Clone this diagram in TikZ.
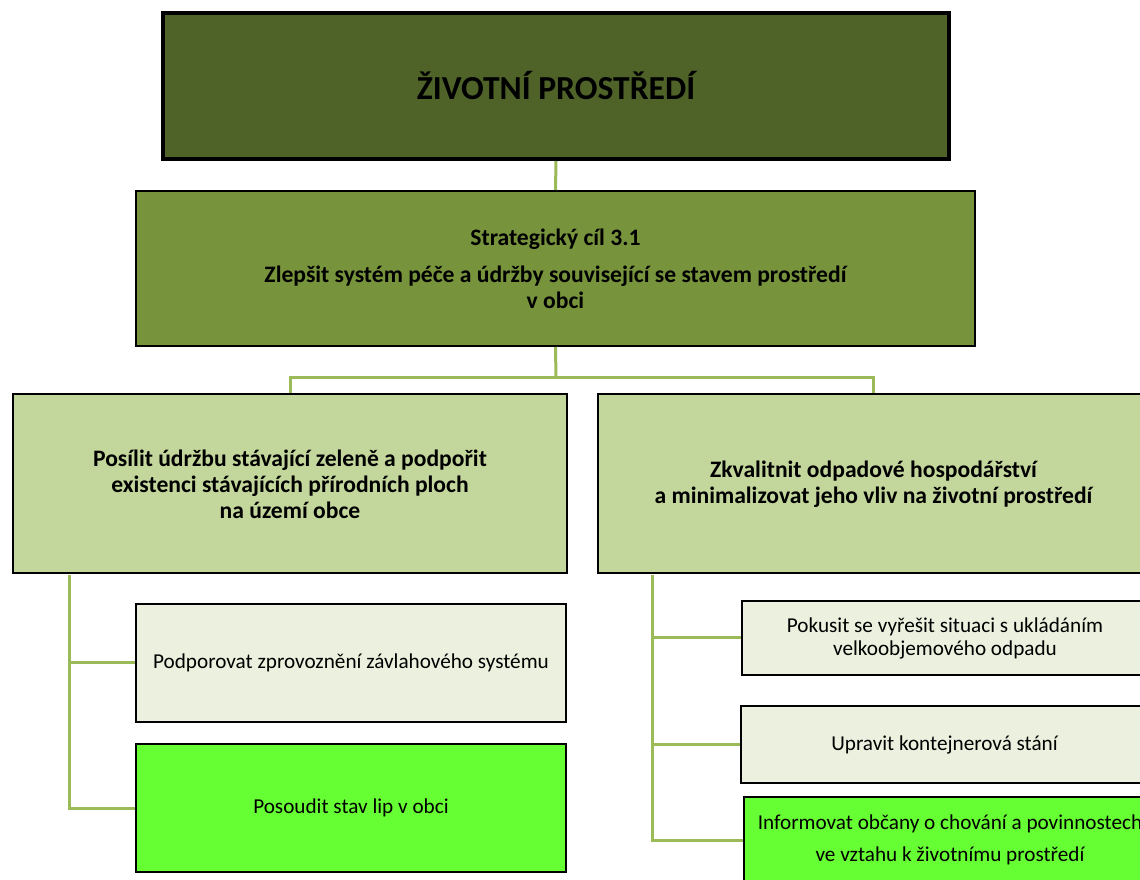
\documentclass[tikz,border=0pt]{standalone}
\usepackage{fontspec}
\setmainfont{Carlito}
\tikzset{every picture/.style={line width=0.75pt}}

\definecolor{envdark}{RGB}{79,98,40}
\definecolor{goalgreen}{RGB}{119,147,60}
\definecolor{aimlight}{RGB}{195,214,155}
\definecolor{taskpale}{RGB}{235,241,222}
\definecolor{taskbright}{RGB}{102,255,51}
\definecolor{connline}{RGB}{155,187,89}

\tikzset{
  box/.style={draw=black, line width=1.5pt, rectangle, inner sep=0pt, align=center},
  headfont/.style={font=\fontsize{17.7}{19.5}\selectfont\bfseries},
  taskfont/.style={font=\fontsize{15.9}{17.25}\selectfont},
  conn/.style={draw=connline, line width=2.25pt},
}

\begin{document}
\begin{tikzpicture}[x=0.75pt,y=0.75pt,yscale=-1,xscale=1]
\clip (0,0) rectangle (1140,880);
\fill[white] (0,0) rectangle (1140,880);

%Shape: Rectangle [title]
\node [box, line width=3pt, fill=envdark, minimum width=589.5pt, minimum height=109.5pt, font=\fontsize{25.2}{30}\selectfont\bfseries] (env) at (556,86) {ŽIVOTNÍ PROSTŘEDÍ};
%Shape: Rectangle [strategic goal]
\node [box, fill=goalgreen, minimum width=629.25pt, minimum height=116.25pt, headfont] (goal) at (555.5,268.5) {Strategický cíl 3.1\\[8.25pt] Zlepšit systém péče a údržby související se stavem prostředí\\ v obci};

%Shape: Rectangle [aims]
\node [box, fill=aimlight, minimum width=415.5pt, minimum height=134.25pt, headfont] (aimL) at (290,484) {Posílit údržbu stávající zeleně a podpořit\\ existenci stávajících přírodních ploch\\ na území obce};
\node [box, fill=aimlight, minimum width=413.25pt, minimum height=134.25pt, headfont] (aimR) at (873.5,484) {Zkvalitnit odpadové hospodářství\\ a minimalizovat jeho vliv na životní prostředí};

%Shape: Rectangle [left tasks]
\node [box, fill=taskpale, minimum width=322.5pt, minimum height=88.5pt, taskfont] (taskL1) at (351,663) {Podporovat zprovoznění závlahového systému};
\node [box, fill=taskbright, minimum width=322.5pt, minimum height=96pt, taskfont] (taskL2) at (351,808) {Posoudit stav lip v obci};

%Shape: Rectangle [right tasks]
\node [box, fill=taskpale, minimum width=304.5pt, minimum height=55.5pt, taskfont] (taskR1) at (945,638) {Pokusit se vyřešit situaci s ukládáním\\ velkoobjemového odpadu};
\node [box, fill=taskpale, minimum width=305.25pt, minimum height=57.75pt, taskfont] (taskR2) at (944.5,744.5) {Upravit kontejnerová stání};
\node [box, fill=taskbright, minimum width=309pt, minimum height=64.5pt, taskfont] (taskR3) at (950,840) {Informovat občany o chování a povinnostech\\[6.75pt] ve vztahu k životnímu prostředí};

% Connectors
\coordinate (fork) at (556,378);
\coordinate (trunkL) at (69,575);
\coordinate (trunkR) at (652,575);
\draw [conn] (env.south) -- (goal.north);
\draw [conn] (goal.south) -- (fork);
\draw [conn] (aimL.north) |- (fork) -| (aimR.north);
\draw [conn] (trunkL) |- (taskL1.west);
\draw [conn] (trunkL) |- (taskL2.west);
\draw [conn] (trunkR) |- (taskR1.west);
\draw [conn] (trunkR) |- (taskR2.west);
\draw [conn] (trunkR) |- (taskR3.west);

\end{tikzpicture}
\end{document}
